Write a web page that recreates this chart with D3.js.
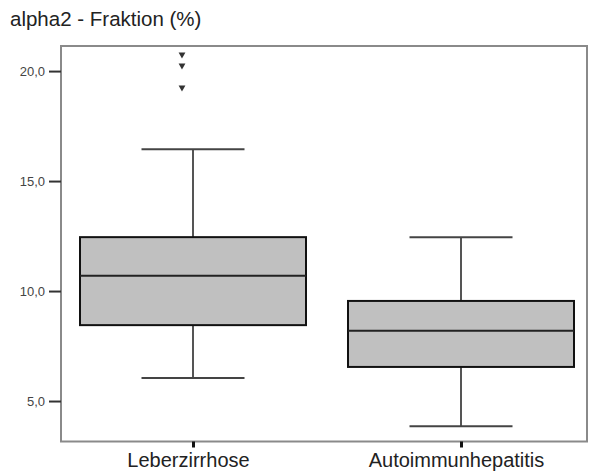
<!DOCTYPE html>
<html>
<head>
<meta charset="utf-8">
<script src="https://cdn.jsdelivr.net/npm/d3@7"></script>
<style>
  body { margin: 0; background: #fff; }
  svg { display: block; font-family: "Liberation Sans", Arial, sans-serif; }
</style>
</head>
<body>
<svg id="chart"></svg>
<script>
// chart values
var categories = ["Leberzirrhose", "Autoimmunhepatitis"];
var whiskerLow = [6.05, 3.85];
var q1 = [8.45, 6.55];
var median = [10.7, 8.2];
var q3 = [12.45, 9.55];
var whiskerHigh = [16.45, 12.45];
var outliers = [[20.75, 20.25, 19.25], []];
var yTicks = [5, 10, 15, 20];
var title = "alpha2 - Fraktion (%)";

var width = 590;
var height = 472;
var plot = { left: 61, right: 587, top: 46, bottom: 441.5 };

var svg = d3.select("#chart")
    .attr("width", width)
    .attr("height", height);

var yScale = d3.scaleLinear()
    .domain([3.16, 21.14])
    .range([plot.bottom, plot.top]);

var xScale = d3.scalePoint()
    .domain(categories)
    .range([59, 595])
    .padding(0.5);

var boxWidth = 226;
var capWidth = 103;

var boxes = categories.map(function(c, i) {
    return { cat: c, lo: whiskerLow[i], q1: q1[i], med: median[i], q3: q3[i], hi: whiskerHigh[i], out: outliers[i] };
});

// title
svg.append("text")
    .attr("x", 10)
    .attr("y", 26)
    .attr("font-size", 20.5)
    .attr("fill", "#222")
    .text(title);

// frame
svg.append("rect")
    .attr("x", plot.left)
    .attr("y", plot.top)
    .attr("width", plot.right - plot.left)
    .attr("height", plot.bottom - plot.top)
    .attr("fill", "none")
    .attr("stroke", "#8a8a8a")
    .attr("stroke-width", 2);

// y axis
var yAxis = d3.axisLeft(yScale)
    .tickValues(yTicks)
    .tickSize(12)
    .tickPadding(4)
    .tickFormat(function(d) { return d3.format(".1f")(d).replace(".", ","); });

var gy = svg.append("g")
    .attr("transform", "translate(" + plot.left + ",0)")
    .call(yAxis);
gy.select(".domain").remove();
gy.selectAll(".tick line").attr("stroke", "#333").attr("stroke-width", 2);
gy.selectAll(".tick text")
    .attr("font-size", 13)
    .attr("fill", "#444")
    .attr("font-family", "Liberation Sans, Arial, sans-serif");

// x axis
var xAxis = d3.axisBottom(xScale)
    .tickSize(6)
    .tickPadding(5);

var gx = svg.append("g")
    .attr("transform", "translate(0," + plot.bottom + ")")
    .call(xAxis);
gx.select(".domain").remove();
gx.selectAll(".tick line").attr("stroke", "#111").attr("stroke-width", 3);
gx.selectAll(".tick text")
    .attr("font-size", 20)
    .attr("fill", "#222")
    .attr("dx", -5)
    .attr("font-family", "Liberation Sans, Arial, sans-serif");

// boxes
var g = svg.selectAll(".box")
    .data(boxes)
    .enter()
    .append("g")
    .attr("class", "box");

// whiskers
g.append("line")
    .attr("x1", d => xScale(d.cat)).attr("x2", d => xScale(d.cat))
    .attr("y1", d => yScale(d.hi)).attr("y2", d => yScale(d.q3))
    .attr("stroke", "#555").attr("stroke-width", 2);
g.append("line")
    .attr("x1", d => xScale(d.cat)).attr("x2", d => xScale(d.cat))
    .attr("y1", d => yScale(d.q1)).attr("y2", d => yScale(d.lo))
    .attr("stroke", "#555").attr("stroke-width", 2);

// caps
g.append("line")
    .attr("x1", d => xScale(d.cat) - capWidth / 2).attr("x2", d => xScale(d.cat) + capWidth / 2)
    .attr("y1", d => yScale(d.hi)).attr("y2", d => yScale(d.hi))
    .attr("stroke", "#444").attr("stroke-width", 2);
g.append("line")
    .attr("x1", d => xScale(d.cat) - capWidth / 2).attr("x2", d => xScale(d.cat) + capWidth / 2)
    .attr("y1", d => yScale(d.lo)).attr("y2", d => yScale(d.lo))
    .attr("stroke", "#444").attr("stroke-width", 2);

// box
g.append("rect")
    .attr("x", d => xScale(d.cat) - boxWidth / 2)
    .attr("y", d => yScale(d.q3))
    .attr("width", boxWidth)
    .attr("height", d => yScale(d.q1) - yScale(d.q3))
    .attr("fill", "#c0c0c0")
    .attr("stroke", "#111")
    .attr("stroke-width", 2);

// median
g.append("line")
    .attr("x1", d => xScale(d.cat) - boxWidth / 2).attr("x2", d => xScale(d.cat) + boxWidth / 2)
    .attr("y1", d => yScale(d.med)).attr("y2", d => yScale(d.med))
    .attr("stroke", "#222").attr("stroke-width", 2);

// outliers (small down triangles, drawn a bit left of centre like the original)
var tri = d3.symbol().type(d3.symbolTriangle).size(20);
g.each(function(d) {
    d3.select(this).selectAll(".out")
        .data(d.out)
        .enter()
        .append("path")
        .attr("class", "out")
        .attr("d", tri)
        .attr("transform", v => "translate(" + (xScale(d.cat) - 11) + "," + yScale(v) + ") rotate(180)")
        .attr("fill", "#333");
});
</script>
</body>
</html>
